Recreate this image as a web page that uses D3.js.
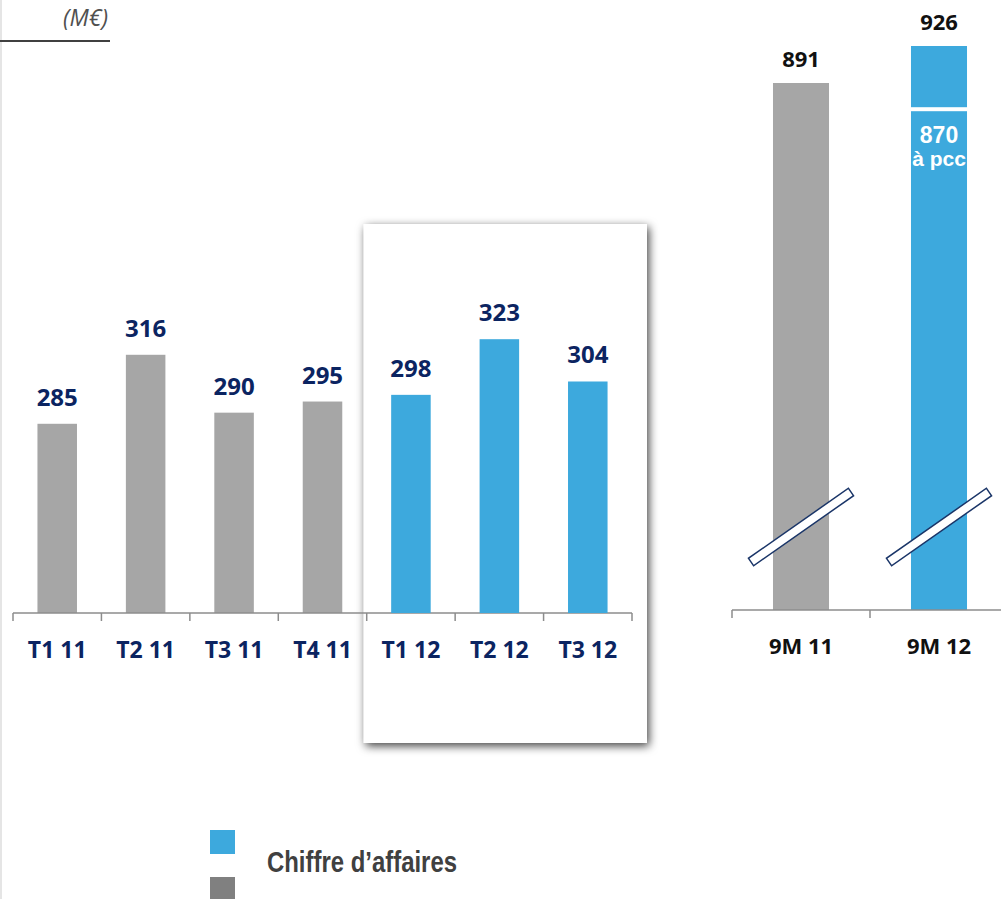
<!DOCTYPE html>
<html>
<head>
<meta charset="utf-8">
<title>Chiffre d'affaires</title>
<style>
  body { margin: 0; background: #fff; }
  svg { display: block; }
  .val { font-family: "Open Sans", "Noto Sans", sans-serif; font-weight: 700; }
</style>
</head>
<body>
<svg id="chart" width="1001" height="899"></svg>
<script src="https://d3js.org/d3.v7.min.js"></script>
<script>

// quarterly sales (M€)
const quarters = ["T1 11", "T2 11", "T3 11", "T4 11", "T1 12", "T2 12", "T3 12"];
const quarterValues = [285, 316, 290, 295, 298, 323, 304];
const highlighted = ["T1 12", "T2 12", "T3 12"];

// nine-month totals
const periods = ["9M 11", "9M 12"];
const periodValues = [891, 926];
const pccValue = 870;   // 9M 12 at constant scope

const legendLabels = ["Chiffre d\u2019affaires", ""];

const blue = "#3da9dd", gray = "#a6a6a6", navy = "#0b2461", axisColor = "#8c8c8c";

const svg = d3.select("#chart");

const defs = svg.append("defs");
const f = defs.append("filter").attr("id", "shadow")
  .attr("x", "-15%").attr("y", "-15%").attr("width", "130%").attr("height", "130%");
f.append("feDropShadow").attr("dx", 2).attr("dy", 3).attr("stdDeviation", 5)
  .attr("flood-color", "#000").attr("flood-opacity", 0.75);

// left edge line
svg.append("line").attr("x1", 1).attr("x2", 1).attr("y1", 0).attr("y2", 899)
  .attr("stroke", "#dcdcdc").attr("stroke-width", 1.5);

// unit
svg.append("text")
  .attr("x", 108).attr("y", 26)
  .attr("text-anchor", "end")
  .style("font-family", "'Open Sans', sans-serif")
  .style("font-style", "italic")
  .style("font-size", "23px")
  .attr("fill", "#505050")
  .text("(M\u20ac)");
svg.append("line").attr("x1", 0).attr("x2", 110).attr("y1", 41).attr("y2", 41)
  .attr("stroke", "#404040").attr("stroke-width", 2);

// ---- left chart: quarters
const pad = 0.553;
const x = d3.scaleBand().domain(quarters).range([13, 632])
  .paddingInner(pad).paddingOuter(pad / 2);
const y = d3.scaleLinear().domain([200, 400]).range([613, 167.8]);

const qData = quarters.map((q, i) => ({ q, v: quarterValues[i], hi: highlighted.includes(q) }));

function drawBars(g, data) {
  g.selectAll("rect.bar").data(data).join("rect")
    .attr("class", "bar")
    .attr("x", d => x(d.q))
    .attr("width", x.bandwidth())
    .attr("y", d => y(d.v))
    .attr("height", d => y.range()[0] - y(d.v))
    .attr("fill", d => d.hi ? blue : gray);
  g.selectAll("text.val").data(data).join("text")
    .attr("class", "val")
    .attr("x", d => x(d.q) + x.bandwidth() / 2)
    .attr("y", d => y(d.v) - 18)
    .attr("text-anchor", "middle")
    .style("font-size", "24px")
    .attr("fill", navy)
    .text(d => d.v);
}

drawBars(svg.append("g"), qData.filter(d => !d.hi));

// highlight frame around 2012 quarters
const step = x.step();
const frameX0 = x(highlighted[0]) - step * pad / 2 - 3;
const frameX1 = x(highlighted[highlighted.length - 1]) + x.bandwidth() + step * pad / 2 + 15;
svg.append("rect")
  .attr("x", frameX0).attr("y", 224)
  .attr("width", frameX1 - frameX0).attr("height", 743 - 224)
  .attr("fill", "#fff")
  .attr("filter", "url(#shadow)");

// axis
const axisY = y.range()[0];
const left = svg.append("g");
left.append("line").attr("x1", 13).attr("x2", 632).attr("y1", axisY).attr("y2", axisY)
  .attr("stroke", axisColor).attr("stroke-width", 1.5);
left.selectAll("line.tick").data(d3.range(quarters.length + 1)).join("line")
  .attr("class", "tick")
  .attr("x1", i => 13 + i * step).attr("x2", i => 13 + i * step)
  .attr("y1", axisY).attr("y2", axisY + 8)
  .attr("stroke", axisColor).attr("stroke-width", 1.5);
left.selectAll("text.cat").data(quarters).join("text")
  .attr("class", "cat val")
  .attr("x", d => x(d) + x.bandwidth() / 2)
  .attr("y", 658)
  .attr("text-anchor", "middle")
  .style("font-size", "23px")
  .attr("fill", navy)
  .text(d => d);

drawBars(svg.append("g"), qData.filter(d => d.hi));

// ---- right chart: nine-month totals (broken axis)
const xr = d3.scaleBand().domain(periods).range([732, 1008])
  .paddingInner(0.594).paddingOuter(0.297);
const yr = d3.scaleLinear().domain([392.5, 926]).range([610, 46]);
const rAxisY = yr.range()[0];

const pData = periods.map((p, i) => ({ p, v: periodValues[i], hi: i === 1 }));
const right = svg.append("g");

right.selectAll("rect.bar").data(pData).join("rect")
  .attr("class", "bar")
  .attr("x", d => xr(d.p))
  .attr("width", xr.bandwidth())
  .attr("y", d => yr(d.v))
  .attr("height", d => rAxisY - yr(d.v))
  .attr("fill", d => d.hi ? blue : gray);

right.selectAll("text.v").data(pData).join("text")
  .attr("class", "v val")
  .attr("x", d => xr(d.p) + xr.bandwidth() / 2)
  .attr("y", d => yr(d.v) - 16.5)
  .attr("text-anchor", "middle")
  .style("font-size", "22px")
  .attr("fill", "#111")
  .text(d => d.v);

// constant-scope split in 9M 12
const pc = pData[1];
const pcx = xr(pc.p) + xr.bandwidth() / 2;
right.append("rect")
  .attr("x", xr(pc.p)).attr("width", xr.bandwidth())
  .attr("y", yr(pccValue) + 2).attr("height", 4)
  .attr("fill", "#fff");
right.append("text")
  .attr("x", pcx).attr("y", yr(pccValue) + 38)
  .attr("text-anchor", "middle")
  .style("font-family", "'Liberation Sans', Arial, sans-serif")
  .style("font-weight", 700).style("font-size", "23px")
  .attr("fill", "#fff")
  .text(pccValue);
right.append("text")
  .attr("x", pcx).attr("y", yr(pccValue) + 61)
  .attr("text-anchor", "middle")
  .style("font-family", "'Liberation Sans', Arial, sans-serif")
  .style("font-weight", 700).style("font-size", "21px")
  .attr("fill", "#fff")
  .text("\u00e0 pcc");

// break marks
right.selectAll("rect.brk").data(pData).join("rect")
  .attr("class", "brk")
  .attr("x", -61).attr("y", -4.5).attr("width", 122).attr("height", 9)
  .attr("transform", d => `translate(${xr(d.p) + xr.bandwidth() / 2},${rAxisY - 83}) rotate(-35)`)
  .attr("fill", "#fff")
  .attr("stroke", "#1a3568").attr("stroke-width", 1.5);

right.append("line").attr("x1", 732).attr("x2", 1001).attr("y1", rAxisY).attr("y2", rAxisY)
  .attr("stroke", axisColor).attr("stroke-width", 1.5);
right.selectAll("line.tick").data(d3.range(periods.length + 1)).join("line")
  .attr("class", "tick")
  .attr("x1", i => 732 + i * xr.step()).attr("x2", i => 732 + i * xr.step())
  .attr("y1", rAxisY).attr("y2", rAxisY + 8)
  .attr("stroke", axisColor).attr("stroke-width", 1.5);
right.selectAll("text.cat").data(periods).join("text")
  .attr("class", "cat val")
  .attr("x", d => xr(d) + xr.bandwidth() / 2)
  .attr("y", 654)
  .attr("text-anchor", "middle")
  .style("font-size", "22px")
  .attr("fill", "#111")
  .text(d => d);

// ---- legend
const legend = svg.append("g").attr("transform", "translate(210,830)");
const legendColors = [blue, "#808080"];
legend.selectAll("rect").data(legendColors).join("rect")
  .attr("x", 0).attr("y", (d, i) => i * 47)
  .attr("width", 25).attr("height", 24)
  .attr("fill", d => d);
legend.selectAll("text").data(legendLabels).join("text")
  .attr("x", 57).attr("y", 42)
  .attr("textLength", (d, i) => i === 0 ? 190 : null)
  .attr("lengthAdjust", "spacingAndGlyphs")
  .style("font-family", "'Liberation Sans Narrow', 'Liberation Sans', Arial, sans-serif")
  .style("font-weight", 700).style("font-size", "29px")
  .attr("fill", "#404040")
  .text(d => d);

</script>
</body>
</html>
